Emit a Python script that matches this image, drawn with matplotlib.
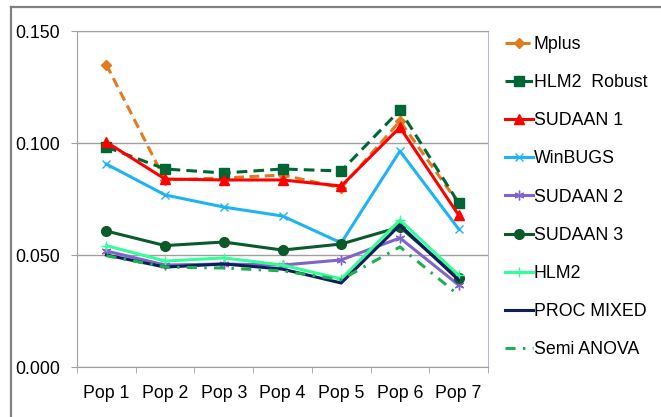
import numpy as np
import matplotlib
matplotlib.use("Agg")
import matplotlib.pyplot as plt
from matplotlib.lines import Line2D

plt.rcParams['font.family'] = ['Liberation Sans', 'DejaVu Sans']

# data
pops = ['Pop 1', 'Pop 2', 'Pop 3', 'Pop 4', 'Pop 5', 'Pop 6', 'Pop 7']

mplus = [0.135, 0.0835, 0.0844, 0.0857, 0.0800, 0.1098, 0.0730]
hlm2_robust = [0.0982, 0.0884, 0.0866, 0.0884, 0.0875, 0.1147, 0.0732]
sudaan1 = [0.1004, 0.0839, 0.0835, 0.0835, 0.0808, 0.1070, 0.0678]
winbugs = [0.0906, 0.0768, 0.0714, 0.0674, 0.0554, 0.0964, 0.0616]
sudaan2 = [0.0518, 0.0455, 0.0460, 0.0455, 0.0478, 0.0576, 0.0366]
sudaan3 = [0.0607, 0.0542, 0.0558, 0.0522, 0.0549, 0.0625, 0.0397]
hlm2 = [0.0542, 0.0473, 0.0487, 0.0455, 0.0393, 0.0656, 0.0410]
proc_mixed = [0.0500, 0.0446, 0.0460, 0.0437, 0.0375, 0.0634, 0.0388]
semi_anova = [0.0497, 0.0446, 0.0442, 0.0429, 0.0390, 0.0536, 0.0321]

x = np.arange(len(pops))
lw = 2.2

fig = plt.figure(figsize=(6.61, 4.17), dpi=100)
ax = fig.add_axes([77/661, 1-367/417, (488-77)/661, (367-31)/417])

ax.plot(x, mplus, color='#E07B20', lw=lw, dashes=(3.2, 1.8), marker='D', ms=5.5, label='Mplus')
ax.plot(x, hlm2_robust, color='#006633', lw=lw, dashes=(3.5, 2.0), marker='s', ms=6.5, label='HLM2  Robust')
ax.plot(x, sudaan1, color='#FF0000', lw=lw, marker='^', ms=7, label='SUDAAN 1')
ax.plot(x, winbugs, color='#1EB4F0', lw=lw, marker='x', ms=6, mew=1, label='WinBUGS')
ax.plot(x, sudaan2, color='#8064C8', lw=lw, marker=(6, 2, 0), ms=7, mew=1, label='SUDAAN 2')
ax.plot(x, sudaan3, color='#0B5A2A', lw=lw, marker='o', ms=7, label='SUDAAN 3')
ax.plot(x, hlm2, color='#33FF99', lw=lw, marker='+', ms=7, mew=1, label='HLM2')
ax.plot(x, proc_mixed, color='#0A1F5C', lw=lw, label='PROC MIXED')
ax.plot(x, semi_anova, color='#1EB050', lw=lw, dashes=(3.3, 2.4, 0.8, 2.4), label='Semi ANOVA')

ax.set_xlim(-0.5, 6.5)
ax.set_ylim(0, 0.150)
ax.set_yticks([0, 0.05, 0.10, 0.15])
ax.set_yticklabels(['0.000', '0.050', '0.100', '0.150'])
ax.set_xticks(x)
ax.set_xticklabels(pops)
ax.set_xticks(np.arange(-0.5, 7, 1), minor=True)
ax.tick_params(axis='x', which='major', length=0, pad=13, labelsize=12.8)
ax.tick_params(axis='x', which='minor', length=4, color='#A0A0A0', direction='out')
ax.tick_params(axis='y', length=4, color='#A0A0A0', pad=8, labelsize=12.8)
ax.grid(axis='y', color='#A0A0A0', lw=1)
ax.set_axisbelow(True)
ax.spines['left'].set_color('#A0A0A0')
ax.spines['bottom'].set_color('#A0A0A0')
ax.spines['right'].set_color('#B8B8D0')
ax.spines['top'].set_color('#A0A0A0')

fig.legend(loc='upper left', bbox_to_anchor=(505/661, 1-36/417), frameon=False,
           fontsize=12.8, labelspacing=1.19, handlelength=1.55, handletextpad=0.08,
           borderaxespad=0, borderpad=0)

# outer chart border (left and top only visible)
fig.add_artist(Line2D([11/661, 11/661], [0, 1-7/417], color='#808080', lw=1.6, transform=fig.transFigure))
fig.add_artist(Line2D([11/661, 1], [1-7/417, 1-7/417], color='#808080', lw=1.6, transform=fig.transFigure))

fig.savefig('out.png', dpi=100)
